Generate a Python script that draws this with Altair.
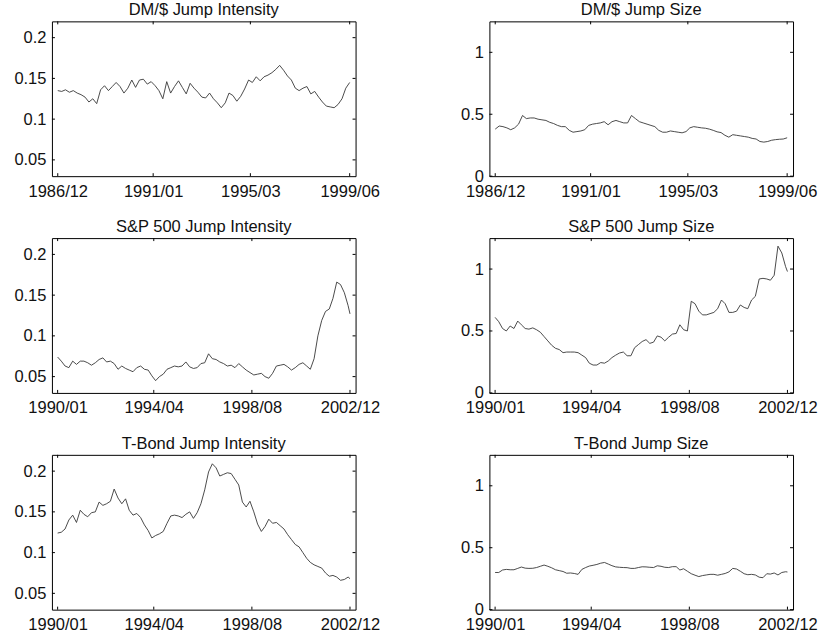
import altair as alt
import pandas as pd

# ---------------- data ----------------
dm_start = (1986, 12)
sp_start = (1990, 1)
dm_offsets = list(range(0, 151, 2))
sp_offsets = list(range(0, 156, 2)) + [155]

dm_intensity = [0.135, 0.134, 0.136, 0.133, 0.135, 0.132, 0.130, 0.127, 0.121, 0.125,
                0.119, 0.136, 0.141, 0.135, 0.140, 0.145, 0.140, 0.132, 0.138, 0.148,
                0.139, 0.148, 0.149, 0.143, 0.146, 0.141, 0.135, 0.125, 0.146, 0.132,
                0.140, 0.147, 0.139, 0.131, 0.144, 0.138, 0.133, 0.127, 0.126, 0.132,
                0.125, 0.120, 0.114, 0.120, 0.132, 0.129, 0.122, 0.128, 0.137, 0.148,
                0.145, 0.152, 0.147, 0.152, 0.154, 0.157, 0.161, 0.166, 0.160, 0.153,
                0.148, 0.138, 0.135, 0.138, 0.140, 0.131, 0.134, 0.127, 0.121, 0.116,
                0.115, 0.114, 0.118, 0.125, 0.138, 0.145]

dm_size = [0.38, 0.405, 0.40, 0.39, 0.375, 0.39, 0.42, 0.49, 0.465, 0.47,
           0.47, 0.46, 0.455, 0.45, 0.435, 0.425, 0.41, 0.40, 0.40, 0.37,
           0.355, 0.36, 0.365, 0.375, 0.41, 0.42, 0.425, 0.43, 0.44, 0.415,
           0.44, 0.45, 0.44, 0.43, 0.43, 0.49, 0.465, 0.44, 0.43, 0.42,
           0.41, 0.40, 0.37, 0.355, 0.355, 0.365, 0.36, 0.355, 0.35, 0.36,
           0.39, 0.40, 0.395, 0.39, 0.387, 0.38, 0.37, 0.358, 0.352, 0.33,
           0.315, 0.335, 0.33, 0.325, 0.32, 0.315, 0.305, 0.30, 0.28, 0.275,
           0.28, 0.29, 0.295, 0.298, 0.30, 0.31]

sp_intensity = [0.074, 0.069, 0.063, 0.061, 0.069, 0.065, 0.069, 0.069, 0.067, 0.064,
                0.067, 0.071, 0.073, 0.068, 0.069, 0.066, 0.059, 0.063, 0.060, 0.058,
                0.056, 0.061, 0.063, 0.059, 0.058, 0.051, 0.045, 0.050, 0.053, 0.059,
                0.061, 0.063, 0.062, 0.063, 0.068, 0.062, 0.060, 0.061, 0.066, 0.067,
                0.078, 0.072, 0.071, 0.068, 0.066, 0.063, 0.064, 0.061, 0.066, 0.062,
                0.058, 0.055, 0.052, 0.053, 0.054, 0.050, 0.048, 0.054, 0.063, 0.064,
                0.065, 0.062, 0.058, 0.061, 0.065, 0.067, 0.063, 0.059, 0.072, 0.100,
                0.119, 0.130, 0.133, 0.146, 0.166, 0.163, 0.153, 0.137, 0.127]

sp_size = [0.61, 0.575, 0.52, 0.50, 0.54, 0.52, 0.58, 0.55, 0.52, 0.515,
           0.525, 0.51, 0.49, 0.455, 0.42, 0.385, 0.36, 0.35, 0.325, 0.33,
           0.33, 0.33, 0.325, 0.305, 0.285, 0.24, 0.225, 0.225, 0.245, 0.24,
           0.258, 0.285, 0.305, 0.322, 0.33, 0.30, 0.30, 0.365, 0.39, 0.415,
           0.43, 0.40, 0.41, 0.46, 0.45, 0.42, 0.45, 0.475, 0.48, 0.55,
           0.51, 0.50, 0.74, 0.72, 0.66, 0.63, 0.63, 0.64, 0.65, 0.68,
           0.75, 0.72, 0.65, 0.65, 0.66, 0.71, 0.69, 0.68, 0.75, 0.78,
           0.92, 0.925, 0.92, 0.91, 0.95, 1.185, 1.13, 1.02, 0.98]

tb_intensity = [0.124, 0.125, 0.129, 0.140, 0.146, 0.137, 0.152, 0.147, 0.144, 0.149,
                0.150, 0.162, 0.158, 0.160, 0.163, 0.178, 0.167, 0.160, 0.166, 0.152,
                0.146, 0.148, 0.143, 0.134, 0.127, 0.118, 0.121, 0.123, 0.126, 0.136,
                0.145, 0.146, 0.145, 0.143, 0.147, 0.150, 0.142, 0.149, 0.160, 0.177,
                0.199, 0.209, 0.204, 0.194, 0.196, 0.198, 0.197, 0.190, 0.183, 0.162,
                0.156, 0.163, 0.150, 0.135, 0.126, 0.132, 0.141, 0.136, 0.137, 0.133,
                0.129, 0.122, 0.116, 0.110, 0.107, 0.100, 0.093, 0.088, 0.085, 0.083,
                0.081, 0.075, 0.071, 0.072, 0.070, 0.066, 0.067, 0.070, 0.068]

tb_size = [0.30, 0.30, 0.32, 0.325, 0.322, 0.322, 0.333, 0.344, 0.335, 0.333,
           0.334, 0.34, 0.35, 0.36, 0.35, 0.338, 0.322, 0.315, 0.308, 0.294,
           0.296, 0.292, 0.285, 0.325, 0.34, 0.352, 0.358, 0.365, 0.375, 0.381,
           0.368, 0.355, 0.345, 0.342, 0.340, 0.339, 0.333, 0.333, 0.34, 0.346,
           0.345, 0.342, 0.34, 0.354, 0.35, 0.342, 0.34, 0.347, 0.347, 0.32,
           0.33, 0.31, 0.29, 0.278, 0.267, 0.275, 0.28, 0.285, 0.285, 0.278,
           0.285, 0.292, 0.305, 0.333, 0.328, 0.31, 0.29, 0.282, 0.285, 0.28,
           0.262, 0.258, 0.29, 0.287, 0.296, 0.28, 0.30, 0.306, 0.304]

dm_xticks = ["1986-12-01", "1991-01-01", "1995-03-01", "1999-06-01"]
sp_xticks = ["1990-01-01", "1994-04-01", "1998-08-01", "2002-12-01"]
dm_xdomain = ["1986-09-01", "1999-09-01"]
sp_xdomain = ["1989-10-01", "2003-03-01"]

intensity_domain = [0.03, 0.22]
intensity_ticks = [0.05, 0.1, 0.15, 0.2]
size_domain = [0, 1.25]
size_ticks = [0, 0.5, 1]

# ---------------- helpers ----------------
W, H = 304, 155
FONT = "Liberation Sans"
FS = 16.5


def ms(s):
    return int(pd.Timestamp(s).value // 10**6)


def month_ms(start, off):
    y, m = start
    t = y * 12 + (m - 1) + off
    return int(pd.Timestamp(year=t // 12, month=t % 12 + 1, day=1).value // 10**6)


def panel(title, start, offsets, values, ydom, yticks, xticks, xdom):
    df = pd.DataFrame({"date": [month_ms(start, o) for o in offsets], "value": values})
    xt = [ms(s) for s in xticks]
    xs = alt.Scale(type="utc", domain=[ms(xdom[0]), ms(xdom[1])])
    ys = alt.Scale(domain=ydom, nice=False, zero=False)
    line = alt.Chart(df).mark_line(color="#383838", strokeWidth=0.9, clip=True).encode(
        x=alt.X("date:T", scale=xs,
                axis=alt.Axis(values=xt, labelExpr="utcFormat(datum.value, '%Y/%m')",
                              title=None, grid=False, ticks=False, domain=False,
                              labelFlush=False, labelOverlap=False, labelPadding=7,
                              labelFontSize=FS, labelColor="#111111", labelFont=FONT)),
        y=alt.Y("value:Q", scale=ys,
                axis=alt.Axis(values=yticks, format="~g", title=None, grid=False,
                              ticks=False, domain=False, labelPadding=6, labelFontSize=FS,
                              labelColor="#111111", labelFont=FONT,
                              minExtent=38, maxExtent=38)),
    )
    xdf = pd.DataFrame({"t": xt})
    ydf = pd.DataFrame({"v": yticks})
    bottom = alt.Chart(xdf).mark_rule(color="black", strokeWidth=1).encode(
        x=alt.X("t:T", scale=xs, axis=None), y=alt.value(H), y2=alt.value(H - 3))
    top = alt.Chart(xdf).mark_rule(color="black", strokeWidth=1).encode(
        x=alt.X("t:T", scale=xs, axis=None), y=alt.value(0), y2=alt.value(3))
    left = alt.Chart(ydf).mark_rule(color="black", strokeWidth=1).encode(
        y=alt.Y("v:Q", scale=ys, axis=None), x=alt.value(0), x2=alt.value(3))
    right = alt.Chart(ydf).mark_rule(color="black", strokeWidth=1).encode(
        y=alt.Y("v:Q", scale=ys, axis=None), x=alt.value(W), x2=alt.value(W - 3))
    return alt.layer(line, bottom, top, left, right).resolve_axis(
        x="independent", y="independent"
    ).properties(
        width=W, height=H,
        title=alt.TitleParams(title, fontSize=FS, fontWeight="normal", offset=2,
                              anchor="middle", color="#111111", font=FONT))


p1 = panel("DM/$ Jump Intensity", dm_start, dm_offsets, dm_intensity,
           intensity_domain, intensity_ticks, dm_xticks, dm_xdomain)
p2 = panel("DM/$ Jump Size", dm_start, dm_offsets, dm_size,
           size_domain, size_ticks, dm_xticks, dm_xdomain)
p3 = panel("S&P 500 Jump Intensity", sp_start, sp_offsets, sp_intensity,
           intensity_domain, intensity_ticks, sp_xticks, sp_xdomain)
p4 = panel("S&P 500 Jump Size", sp_start, sp_offsets, sp_size,
           size_domain, size_ticks, sp_xticks, sp_xdomain)
p5 = panel("T-Bond Jump Intensity", sp_start, sp_offsets, tb_intensity,
           intensity_domain, intensity_ticks, sp_xticks, sp_xdomain)
p6 = panel("T-Bond Jump Size", sp_start, sp_offsets, tb_size,
           size_domain, size_ticks, sp_xticks, sp_xdomain)

chart = alt.concat(p1, p2, p3, p4, p5, p6, columns=2,
                   spacing={"row": 62, "column": 134}, bounds="flush").configure(
    font=FONT, background="white",
    padding={"left": 13, "top": 1, "right": 0, "bottom": 0}
).configure_view(
    stroke="black", strokeWidth=1
)

chart.save("out.html", embed_options={"renderer": "svg", "actions": False})
